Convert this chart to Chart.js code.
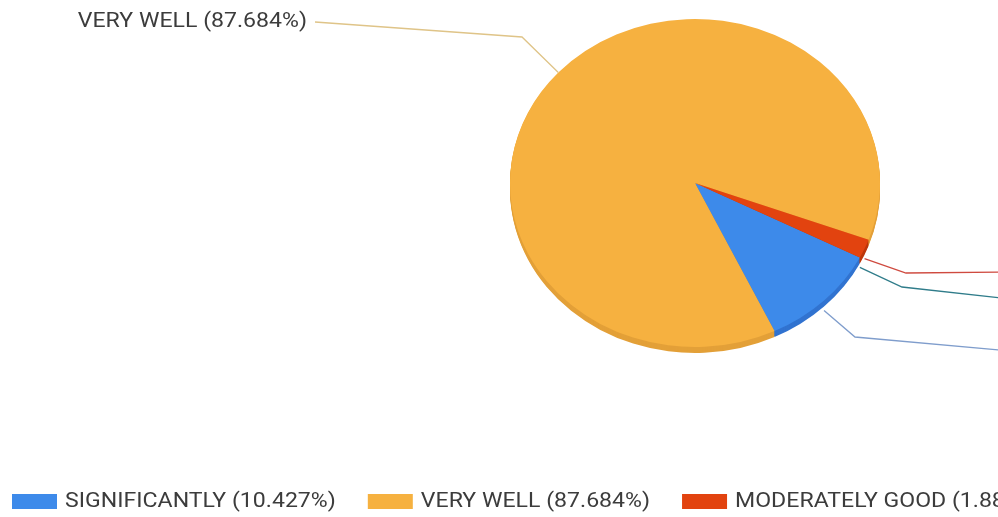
<!DOCTYPE html>
<html>
<head>
<meta charset="utf-8">
<script src="https://cdn.jsdelivr.net/npm/chart.js@4.4.0/dist/chart.umd.min.js"></script>
<style>
  html, body { margin: 0; padding: 0; background: #fff; overflow: hidden; }
</style>
</head>
<body>
<canvas id="pie" width="998" height="517"></canvas>
<script>
// Answer categories and their share of responses (%)
const categories = ['SIGNIFICANTLY', 'VERY WELL', 'MODERATELY GOOD', 'POORLY'];
const shares = [10.427, 87.684, 1.889, 0];

const sliceColors = ['#3d8aea', '#f6b140', '#e2430f', '#2c7f8e'];
const sideColors = ['#3173d0', '#e3a038', '#bd370b', '#236a77'];
const leaderColors = ['#7f9dcc', '#dfc488', '#cf4a3f', '#2f7c8a'];

const TEXT_COLOR = '#3c3c3c';
const FONT = '21px Roboto';
const TEXT_SX = 1.1;      // horizontal text scale
const TILT = 164 / 185;   // vertical squash of the pie
const DEPTH = 6;          // thickness of the pie side
const CENTER_Y = 183;

// elbow and end point of each leader line (layout only)
const leaderLayout = [
    { elbow: [855, 337], end: [1010, 351] },
    { elbow: [522, 37], end: [315, 22] },
    { elbow: [906, 273], end: [1010, 272] },
    { elbow: [902, 287], end: [1010, 299] }
];

function sliceLabel(i) {
    return categories[i] + ' (' + shares[i] + '%)';
}

function tilt(ctx, arc) {
    ctx.translate(arc.x, CENTER_Y);
    ctx.scale(1, TILT);
    ctx.translate(-arc.x, -arc.y);
}

function drawText(ctx, text, x, y, align) {
    ctx.save();
    ctx.font = FONT;
    ctx.fillStyle = TEXT_COLOR;
    ctx.textBaseline = 'middle';
    ctx.textAlign = align;
    ctx.translate(x, y);
    ctx.scale(TEXT_SX, 1);
    ctx.fillText(text, 0, 0);
    ctx.restore();
}

const pie3d = {
    id: 'pie3d',
    beforeDatasetsDraw(chart) {
        const ctx = chart.ctx;
        const arcs = chart.getDatasetMeta(0).data;
        ctx.save();
        // side of the pie: stacked darker copies below the top face
        for (let d = DEPTH; d >= 1; d--) {
            arcs.forEach((arc, i) => {
                if (arc.endAngle - arc.startAngle <= 0) return;
                ctx.save();
                ctx.translate(0, d);
                tilt(ctx, arc);
                ctx.beginPath();
                ctx.moveTo(arc.x, arc.y);
                ctx.arc(arc.x, arc.y, arc.outerRadius, arc.startAngle, arc.endAngle);
                ctx.closePath();
                ctx.fillStyle = sideColors[i];
                ctx.fill();
                ctx.restore();
            });
        }
        // top face gets drawn by Chart.js inside this transform
        tilt(ctx, arcs[0]);
    },
    afterDatasetsDraw(chart) {
        const ctx = chart.ctx;
        ctx.restore();

        const arcs = chart.getDatasetMeta(0).data;

        // leader lines + labels
        arcs.forEach((arc, i) => {
            const mid = (arc.startAngle + arc.endAngle) / 2;
            const sx = arc.x + arc.outerRadius * Math.cos(mid);
            let sy = CENTER_Y + arc.outerRadius * TILT * Math.sin(mid);
            if (Math.sin(mid) > 0) sy += DEPTH + 4;
            const lay = leaderLayout[i];

            ctx.save();
            ctx.strokeStyle = leaderColors[i];
            ctx.lineWidth = 1.3;
            ctx.beginPath();
            ctx.moveTo(sx, sy);
            ctx.lineTo(lay.elbow[0], lay.elbow[1]);
            ctx.lineTo(lay.end[0], lay.end[1]);
            ctx.stroke();
            ctx.restore();

            const left = lay.end[0] < sx;
            drawText(ctx, sliceLabel(i), lay.end[0] + (left ? -8 : 8), lay.end[1], left ? 'right' : 'left');
        });

        // legend along the bottom
        ctx.save();
        ctx.font = FONT;
        let x = 12;
        categories.forEach((c, i) => {
            ctx.fillStyle = sliceColors[i];
            ctx.fillRect(x, 494, 45, 15);
            const t = sliceLabel(i);
            drawText(ctx, t, x + 53, 502, 'left');
            x += 53 + ctx.measureText(t).width * TEXT_SX + 32;
        });
        ctx.restore();
    }
};

new Chart(document.getElementById('pie'), {
    type: 'pie',
    data: {
        labels: categories,
        datasets: [{
            data: shares,
            backgroundColor: sliceColors,
            borderWidth: 0,
            hoverOffset: 0,
            clip: false
        }]
    },
    options: {
        responsive: false,
        animation: false,
        rotation: 117,
        layout: {
            padding: { left: 510, right: 118, top: 0, bottom: 147 }
        },
        plugins: {
            legend: { display: false },
            tooltip: { enabled: false }
        }
    },
    plugins: [pie3d]
});
</script>
</body>
</html>
